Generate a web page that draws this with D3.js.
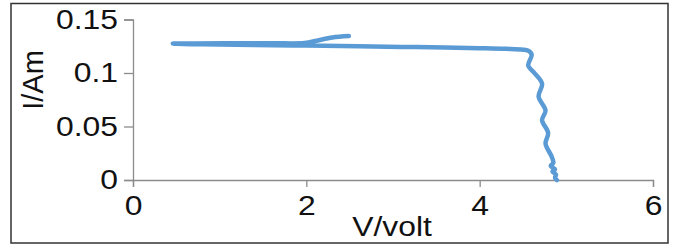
<!DOCTYPE html>
<html>
<head>
<meta charset="utf-8">
<script src="https://cdn.jsdelivr.net/npm/d3@7"></script>
<style>
	body { margin: 0; background: #fff; }
	text { font-family: "Liberation Sans", Arial, sans-serif; }
</style>
</head>
<body>
<svg width="673" height="246"></svg>
<script>
// data (V in volt, I in A)
var volts = [2.49, 2.3, 2.12, 1.98, 1.6, 1.1, 0.7, 0.46,
	0.8, 1.4, 2.0, 2.6, 3.1, 3.6, 4.0, 4.3, 4.5, 4.57, 4.6,
	4.56, 4.62, 4.72, 4.68, 4.76, 4.72, 4.79, 4.76, 4.83, 4.85,
	4.82, 4.87, 4.84, 4.88, 4.87, 4.89];
var amps = [0.1345, 0.1332, 0.1302, 0.128, 0.1278, 0.1277, 0.1276, 0.1275,
	0.1268, 0.1262, 0.1256, 0.1249, 0.1244, 0.1238, 0.1232, 0.1226, 0.1218, 0.1205, 0.117,
	0.107, 0.101, 0.090, 0.078, 0.065, 0.056, 0.044, 0.034, 0.022, 0.016,
	0.013, 0.010, 0.008, 0.005, 0.002, 0.0];
var xTicks = [0, 2, 4, 6];
var yTicks = [0, 0.05, 0.1, 0.15];
var xTitle = "V/volt";
var yTitle = "I/Am";

var svg = d3.select("svg"),
	width = +svg.attr("width"),
	height = +svg.attr("height");

// outer frame
svg.append("rect")
	.attr("x", 11).attr("y", 3.5)
	.attr("width", 657).attr("height", 239.5)
	.attr("fill", "none")
	.attr("stroke", "#333")
	.attr("stroke-width", 1.5);

var x = d3.scaleLinear().domain([0, 6]).range([133, 653]);
var y = d3.scaleLinear().domain([0, 0.15]).range([180, 19.5]);

svg.append("g")
	.attr("transform", "translate(0," + y(0) + ")")
	.call(d3.axisBottom(x).tickValues(xTicks).tickSize(7).tickPadding(9).tickFormat(d3.format("d")));

svg.append("g")
	.attr("transform", "translate(" + x(0) + ",0)")
	.call(d3.axisLeft(y).tickValues(yTicks).tickSize(9).tickPadding(6)
		.tickFormat(function (d) { return d == 0 ? "0" : String(+d.toFixed(2)); }));

svg.selectAll(".domain, .tick line")
	.attr("stroke", "#8c8c8c")
	.attr("stroke-width", 1.3);

svg.selectAll(".tick text")
	.attr("fill", "#111")
	.style("font-size", "27px");

// x title
svg.append("text")
	.attr("class", "wide")
	.attr("x", 392).attr("y", 236)
	.attr("text-anchor", "middle")
	.attr("fill", "#111")
	.style("font-size", "27px")
	.text(xTitle);

// y title
svg.append("text")
	.attr("transform", "translate(43,80) rotate(-90)")
	.attr("text-anchor", "middle")
	.attr("fill", "#111")
	.style("font-size", "29px")
	.text(yTitle);

// horizontal texts in the picture are a bit wider than the font
svg.selectAll(".tick text, text.wide").each(function () {
	var len = this.getComputedTextLength();
	d3.select(this)
		.attr("textLength", len * 1.18)
		.attr("lengthAdjust", "spacingAndGlyphs");
});

var pts = volts.map(function (v, i) { return [v, amps[i]]; });

var line = d3.line()
	.x(function (d) { return x(d[0]); })
	.y(function (d) { return y(d[1]); })
	.curve(d3.curveCatmullRom.alpha(0.5));

svg.append("path")
	.datum(pts)
	.attr("d", line)
	.attr("fill", "none")
	.attr("stroke", "#5b9bd5")
	.attr("stroke-width", 4.5)
	.attr("stroke-linecap", "round")
	.attr("stroke-linejoin", "round");
</script>
</body>
</html>
